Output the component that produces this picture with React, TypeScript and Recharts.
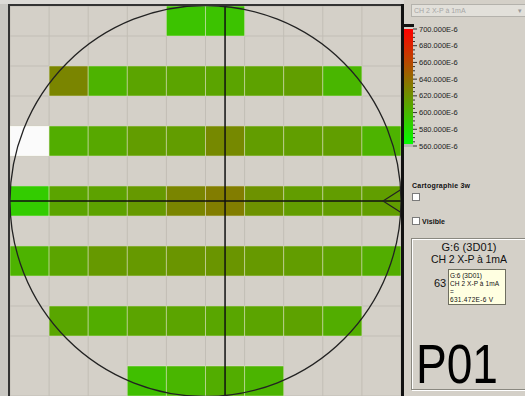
import React from "react";
import {
  ScatterChart,
  Scatter,
  XAxis,
  YAxis,
  CartesianGrid,
  ReferenceArea,
  ReferenceLine,
  ReferenceDot,
} from "recharts";

// wafer grid: 10 columns x 13 rows, dies only on the even rows
const colTicks = [0, 1, 2, 3, 4, 5, 6, 7, 8, 9, 10];
const rowTicks = [0, 1, 2, 3, 4, 5, 6, 7, 8, 9, 10, 11, 12, 13];
const dieRows = [0, 2, 4, 6, 8, 10, 12];

// CH 2 X-P at 1mA, values in E-6 V (OUT = measured outside the scale)
const OUT = -1;
const row0 = [null, null, null, null, 593, 593, null, null, null, null];
const row2 = [null, 627, 602, 610, 610, 610, 611, 613, 600, null];
const row4 = [OUT, 605, 608, 614, 614, 625, 614, 613, 613, 602];
const row6 = [588, 610, 611, 616, 627, 631.472, 620, 614, 614, 613];
const row8 = [602, 610, 616, 616, 618, 618, 616, 614, 611, 605];
const row10 = [null, 609, 605, 610, 610, 609, 610, 611, 605, null];
const row12 = [null, null, null, 595, 600, 605, 601, null, null, null];
const waferValues = [row0, row2, row4, row6, row8, row10, row12];

const selectedDie = { col: 5, row: 6, name: "G:6 (3D01)", value: "631.472E-6" };

// colour scale
const scaleMin = 560;
const scaleMax = 700;
const scaleLabels = [700, 680, 660, 640, 620, 600, 580, 560];
const scaleMinor = [
  560, 565, 570, 575, 580, 585, 590, 595, 600, 605, 610, 615, 620, 625, 630,
  635, 640, 645, 650, 655, 660, 665, 670, 675, 680, 685, 690, 695, 700,
];

const BG = "#d4d0c8";
const FONT = "'Liberation Sans', Arial, sans-serif";

function valueColor(v: number) {
  if (v < scaleMin || v > scaleMax) return "#fbfbfb";
  const t = (v - scaleMin) / (scaleMax - scaleMin);
  return `rgb(${Math.round(255 * t)},${Math.round(255 * (1 - t))},0)`;
}

const cells = dieRows.flatMap((row, i) =>
  waferValues[i]
    .map((v, col) => (v === null ? null : { col, row, v, x: col + 0.5, y: row + 0.5 }))
    .filter((c): c is { col: number; row: number; v: number; x: number; y: number } => c !== null)
);

const scalePoints = scaleLabels.map((v) => ({ x: 0.5, y: v }));

function ScaleTick(props: any) {
  const { x, y, payload } = props;
  const major = scaleLabels.includes(payload.value);
  return (
    <g>
      <line x1={x} x2={x + (major ? 4 : 2)} y1={y} y2={y} stroke="#333" strokeWidth={1} />
      {major && (
        <text x={x + 6} y={y} dy={2.6} fontSize={7.5} fill="#222" fontFamily={FONT}>
          {`${payload.value}.000E-6`}
        </text>
      )}
    </g>
  );
}

// die centres carry the data; the die rectangles are drawn as areas
const noMarker = () => <g />;

function WaferMap() {
  return (
    <ScatterChart width={404} height={396} margin={{ top: 6, right: 3, bottom: 0, left: 10 }}>
      <XAxis type="number" dataKey="x" domain={[0, 10]} ticks={colTicks} hide />
      <YAxis type="number" dataKey="y" domain={[0, 13]} ticks={rowTicks} reversed hide />
      <CartesianGrid stroke="#c2beb6" fill={BG} />
      {cells.map((c) => (
        <ReferenceArea
          key={`${c.col}-${c.row}`}
          x1={c.col}
          x2={c.col + 1}
          y1={c.row}
          y2={c.row + 1}
          fill={valueColor(c.v)}
          fillOpacity={1}
          stroke="rgba(235,235,215,0.45)"
          strokeWidth={1}
        />
      ))}
      <Scatter data={cells} shape={noMarker} isAnimationActive={false} />
      <ReferenceDot x={5} y={6.5} r={195.5} fill="none" stroke="#222" strokeWidth={1.3} />
      <ReferenceLine x={selectedDie.col + 0.5} stroke="#111" strokeWidth={1.5} />
      <ReferenceLine y={selectedDie.row + 0.5} stroke="#111" strokeWidth={1.5} />
      {/* flat notch marker */}
      <ReferenceLine segment={[{ x: 10, y: 6.12 }, { x: 9.54, y: 6.5 }]} stroke="#222" strokeWidth={1.2} />
      <ReferenceLine segment={[{ x: 9.54, y: 6.5 }, { x: 10, y: 6.88 }]} stroke="#222" strokeWidth={1.2} />
    </ScatterChart>
  );
}

function ColorScale() {
  return (
    <ScatterChart width={125} height={160} margin={{ top: 29, right: 0, bottom: 14, left: 4 }}>
      <defs>
        <linearGradient id="scaleFill" x1="0" y1="0" x2="0" y2="1">
          <stop offset="0%" stopColor="#ff0000" />
          <stop offset="100%" stopColor="#00ff00" />
        </linearGradient>
      </defs>
      <XAxis type="number" dataKey="x" domain={[0, 1]} hide />
      <YAxis
        type="number"
        dataKey="y"
        orientation="right"
        width={112}
        domain={[scaleMin, scaleMax]}
        ticks={scaleMinor}
        interval={0}
        axisLine={false}
        tickLine={false}
        tickSize={0}
        tickMargin={0}
        tick={<ScaleTick />}
      />
      <ReferenceArea x1={0} x2={1} y1={scaleMin} y2={scaleMax} fill="url(#scaleFill)" fillOpacity={1} />
      <Scatter data={scalePoints} shape={noMarker} isAnimationActive={false} />
    </ScatterChart>
  );
}

function SidePanel() {
  const t = { fontFamily: FONT, fill: "#111" };
  return (
    <svg width={525} height={396} style={{ position: "absolute", left: 0, top: 0, pointerEvents: "none" }}>
      {/* channel selector */}
      <rect x={411.5} y={4.5} width={120} height={12} fill="#e2e0da" stroke="#b4b2ac" />
      <text x={414} y={13} fontSize={7} fontFamily={FONT} fill="#a6a6a6">
        CH 2 X-P à 1mA
      </text>
      <text x={518} y={13} fontSize={7} fontFamily={FONT} fill="#9a9a9a">
        ▾
      </text>

      <text x={412} y={188} fontSize={7} fontWeight="bold" textLength={58} {...t}>
        Cartographie 3w
      </text>
      <rect x={412.5} y={193.5} width={7} height={7} fill="#fff" stroke="#7a7a7a" />
      <rect x={412.5} y={217.5} width={7} height={7} fill="#fff" stroke="#7a7a7a" />
      <text x={422} y={224} fontSize={7} fontWeight="bold" textLength={23} {...t}>
        Visible
      </text>

      {/* die info box */}
      <rect x={412.5} y={239.5} width={120} height={151} fill="none" stroke="#fff" />
      <rect x={411.5} y={238.5} width={120} height={151} fill="none" stroke="#8a8880" />
      <text x={469} y={251} fontSize={11} textAnchor="middle" textLength={55} {...t}>
        {selectedDie.name}
      </text>
      <text x={469} y={263} fontSize={10.5} textAnchor="middle" textLength={76} {...t}>
        CH 2 X-P à 1mA
      </text>
      {/* value line, mostly hidden under the hover tooltip */}
      <text x={434} y={287} fontSize={11} {...t}>
        {selectedDie.value.slice(0, 2)}
      </text>

      <rect x={448.5} y={269.5} width={57} height={35} fill="#ffffe1" stroke="#6e6e60" />
      <text x={450} y={277.5} fontSize={6.5} textLength={32} {...t}>
        {selectedDie.name}
      </text>
      <text x={450} y={285.5} fontSize={6.5} textLength={49} {...t}>
        CH 2 X-P à 1mA
      </text>
      <text x={450} y={293.5} fontSize={6.5} {...t}>
        =
      </text>
      <text x={450} y={302} fontSize={6.5} textLength={43} {...t}>
        {`${selectedDie.value}  V`}
      </text>

      <text x={416} y={383} fontSize={56} textLength={82} lengthAdjust="spacingAndGlyphs" {...t} fill="#000">
        P01
      </text>
    </svg>
  );
}

export default function App() {
  return (
    <div
      style={{
        position: "fixed",
        left: 0,
        top: 0,
        width: 525,
        height: 396,
        background: BG,
        overflow: "hidden",
      }}
    >
      {/* window frame on the left and top */}
      <div style={{ position: "absolute", left: 0, top: 0, width: 8, height: 396, background: "#c9c7c2" }} />
      <div style={{ position: "absolute", left: 0, top: 0, width: 404, height: 4, background: "#dcdad6" }} />
      <div style={{ position: "absolute", left: 0, top: 0 }}>
        <WaferMap />
      </div>
      <div style={{ position: "absolute", left: 8, top: 4, width: 2, height: 392, background: "#333" }} />
      <div style={{ position: "absolute", left: 8, top: 4, width: 396, height: 2, background: "#333" }} />
      <div style={{ position: "absolute", left: 400, top: 0 }}>
        <ColorScale />
      </div>
      <div style={{ position: "absolute", left: 401, top: 4, width: 3, height: 392, background: "#111" }} />
      <div style={{ position: "absolute", left: 401, top: 24, width: 13, height: 3, background: "#111" }} />
      <div style={{ position: "absolute", left: 404, top: 144, width: 9, height: 3, background: "#b9b7b2" }} />
      <SidePanel />
    </div>
  );
}
